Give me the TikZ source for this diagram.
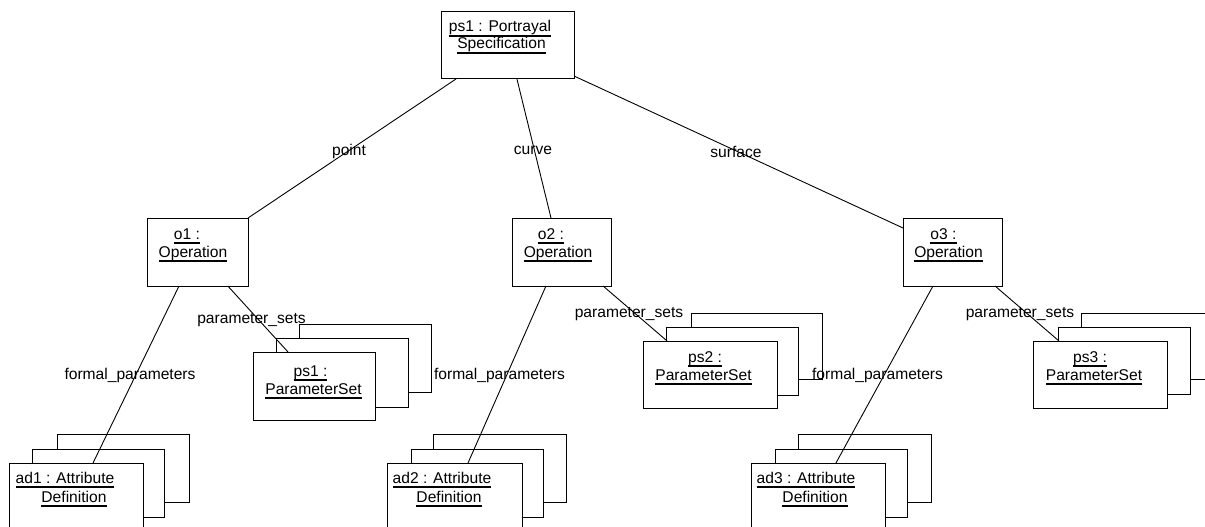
\documentclass[tikz,border=0pt]{standalone}
\usepackage{fontspec}
\setmainfont{Liberation Sans}
\usetikzlibrary{calc}

% underlined object name with a fixed rule position
\newcommand\ulbox[1]{\setbox0\hbox{#1}\rlap{\rule[-4.6pt]{\wd0}{1.3pt}}\box0}

\tikzset{
  obj/.style={draw=black, fill=white, line width=1pt, rectangle, anchor=north west,
              inner sep=0pt, outer sep=0pt},
  lbl/.style={anchor=base, inner sep=0pt, font=\fontsize{15.6}{19}\selectfont},
  conn/.style={draw=black, line width=0.9pt},
}

\begin{document}
\begin{tikzpicture}[x=1pt,y=-1pt]
\useasboundingbox (0,0) rectangle (1205,527);
\fill[white] (0,0) rectangle (1205,527);
\clip (0,0) rectangle (1205,527);

% ---- portrayal specification ----
\node[obj, minimum width=133pt, minimum height=67pt] (ps) at (441,12) {};
\node[lbl] (psA) at (500,32) {\ulbox{ps1 : Portrayal}};
\node[lbl] (psB) at (501.5,49) {\ulbox{Specification}};

% ---- operations ----
\node[obj, minimum width=101pt, minimum height=68pt] (o1) at (147,218) {};
\node[lbl] (o1A) at (187,239) {\ulbox{o1 :}};
\node[lbl] (o1B) at (193,257) {\ulbox{Operation}};

\node[obj, minimum width=99pt, minimum height=68pt] (o2) at (512,218) {};
\node[lbl] (o2A) at (551,239) {\ulbox{o2 :}};
\node[lbl] (o2B) at (558,257) {\ulbox{Operation}};

\node[obj, minimum width=99pt, minimum height=68pt] (o3) at (903,218) {};
\node[lbl] (o3A) at (943.5,239) {\ulbox{o3 :}};
\node[lbl] (o3B) at (948.5,257) {\ulbox{Operation}};

% ---- parameter set stacks (back, middle, front) ----
\node[obj, minimum width=132pt, minimum height=68pt] (ps1c) at (299,324) {};
\node[obj, minimum width=132pt, minimum height=69pt] (ps1b) at (276,338) {};
\node[obj, minimum width=122pt, minimum height=68pt] (ps1) at (253,352) {};
\node[lbl] (ps1A) at (310.5,376) {\ulbox{ps1 :}};
\node[lbl] (ps1B) at (313.5,394) {\ulbox{ParameterSet}};

\node[obj, minimum width=131pt, minimum height=66pt] (ps2c) at (691,313) {};
\node[obj, minimum width=132pt, minimum height=68pt] (ps2b) at (666,327) {};
\node[obj, minimum width=134pt, minimum height=67pt] (ps2) at (643,341) {};
\node[lbl] (ps2A) at (705,362) {\ulbox{ps2 :}};
\node[lbl] (ps2B) at (703.5,380) {\ulbox{ParameterSet}};

\node[obj, minimum width=132pt, minimum height=66pt] (ps3c) at (1081,313) {};
\node[obj, minimum width=132pt, minimum height=67pt] (ps3b) at (1058,327) {};
\node[obj, minimum width=134pt, minimum height=67pt] (ps3) at (1033,341) {};
\node[lbl] (ps3A) at (1090,362) {\ulbox{ps3 :}};
\node[lbl] (ps3B) at (1094,380) {\ulbox{ParameterSet}};

% ---- attribute definition stacks (back, middle, front) ----
\node[obj, minimum width=132pt, minimum height=68pt] (ad1c) at (57,434) {};
\node[obj, minimum width=132pt, minimum height=68pt] (ad1b) at (32,449) {};
\node[obj, minimum width=134pt, minimum height=68pt] (ad1) at (9,463) {};
\node[lbl] (ad1A) at (65,483) {\ulbox{ad1 : Attribute}};
\node[lbl] (ad1B) at (74,502) {\ulbox{Definition}};

\node[obj, minimum width=133pt, minimum height=68pt] (ad2c) at (433,434) {};
\node[obj, minimum width=132pt, minimum height=68pt] (ad2b) at (411,449) {};
\node[obj, minimum width=135pt, minimum height=68pt] (ad2) at (387,463) {};
\node[lbl] (ad2A) at (442,483) {\ulbox{ad2 : Attribute}};
\node[lbl] (ad2B) at (449,502) {\ulbox{Definition}};

\node[obj, minimum width=133pt, minimum height=68pt] (ad3c) at (798,434) {};
\node[obj, minimum width=132pt, minimum height=68pt] (ad3b) at (775,449) {};
\node[obj, minimum width=134pt, minimum height=68pt] (ad3) at (751,463) {};
\node[lbl] (ad3A) at (806,483) {\ulbox{ad3 : Attribute}};
\node[lbl] (ad3B) at (815,502) {\ulbox{Definition}};

% ---- links ----
\draw[conn] ($(ps.south west)!0.113!(ps.south east)$) -- (o1.north east);
\draw[conn] ($(ps.south west)!0.571!(ps.south east)$) -- ($(o2.north west)!0.394!(o2.north east)$);
\draw[conn] ($(ps.north east)!0.955!(ps.south east)$) -- ($(o3.north west)!0.147!(o3.south west)$);

\draw[conn] ($(o1.south west)!0.317!(o1.south east)$) -- ($(ad1.north west)!0.627!(ad1.north east)$);
\draw[conn] ($(o1.south west)!0.8!(o1.south east)$) -- ($(ps1.north west)!0.287!(ps1.north east)$);
\draw[conn] ($(o2.south west)!0.343!(o2.south east)$) -- ($(ad2.north west)!0.6!(ad2.north east)$);
\draw[conn] ($(o2.south west)!0.92!(o2.south east)$) -- ($(ps2.north west)!0.18!(ps2.north east)$);
\draw[conn] ($(o3.south west)!0.303!(o3.south east)$) -- ($(ad3.north west)!0.634!(ad3.north east)$);
\draw[conn] ($(o3.south west)!0.93!(o3.south east)$) -- ($(ps3.north west)!0.194!(ps3.north east)$);

% ---- role names ----
\node[lbl] (rPoint) at (349,155) {point};
\node[lbl] (rCurve) at (533,154) {curve};
\node[lbl] (rSurface) at (736,157) {surface};

\node[lbl] (rPs1) at (251.5,323) {parameter\_sets};
\node[lbl] (rPs2) at (629,317) {parameter\_sets};
\node[lbl] (rPs3) at (1020,317) {parameter\_sets};

\node[lbl] (rFp1) at (130,379) {formal\_parameters};
\node[lbl] (rFp2) at (499.5,379) {formal\_parameters};
\node[lbl] (rFp3) at (877.5,379) {formal\_parameters};
\end{tikzpicture}
\end{document}
